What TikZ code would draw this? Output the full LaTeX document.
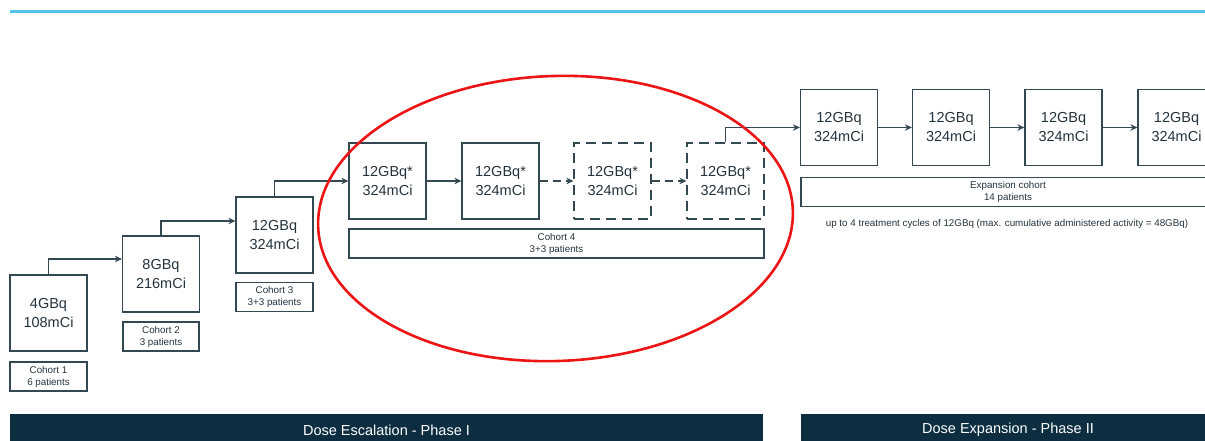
\documentclass[tikz,border=0pt]{standalone}
\usepackage{fontspec}
\setmainfont{Liberation Sans}
\usetikzlibrary{arrows.meta,calc}
\definecolor{lineclr}{RGB}{52,72,84}
\definecolor{txtclr}{RGB}{36,50,60}
\definecolor{barclr}{RGB}{12,46,64}
\definecolor{topclr}{RGB}{84,196,238}
\definecolor{ringclr}{RGB}{236,20,20}
\tikzset{
  dosebox/.style={draw=lineclr, line width=1.2pt, minimum width=77pt, minimum height=76pt,
    inner sep=0pt, align=center, text=txtclr, font=\fontsize{14.5}{19}\selectfont},
  dashbox/.style={dosebox, dash pattern=on 10pt off 6pt},
  labelbox/.style={draw=lineclr, line width=1.1pt, minimum height=29pt, inner sep=0pt,
    align=center, text=txtclr, font=\fontsize{9.8}{12}\selectfont},
  arr/.style={draw=lineclr, line width=1.1pt, -{Stealth[length=7pt,width=6.5pt]}},
  dasharr/.style={arr, dash pattern=on 8pt off 5pt},
  bartext/.style={text=white, font=\fontsize{14.5}{17}\selectfont}
}
\begin{document}
\begin{tikzpicture}[x=1pt,y=-1pt]
\useasboundingbox (0,0) rectangle (1205,441);

% header rule
\draw[topclr, line width=3pt] (10,12) -- (1205,12);

% dose escalation cohorts 1-3
\node[dosebox] (c1) at (48.5,313) {4GBq\\108mCi};
\node[labelbox, minimum width=77pt] (l1) at (48.5,376.5) {Cohort 1\\6 patients};
\node[dosebox] (c2) at (161,274) {8GBq\\216mCi};
\node[labelbox, minimum width=76pt] (l2) at (161,336.5) {Cohort 2\\3 patients};
\node[dosebox] (c3) at (274.5,235) {12GBq\\324mCi};
\node[labelbox, minimum width=77pt] (l3) at (274.5,297) {Cohort 3\\3+3 patients};

% cohort 4 cycles
\node[dosebox] (a) at (387.5,181) {12GBq*\\324mCi};
\node[dosebox] (b) at (500.5,181) {12GBq*\\324mCi};
\node[dashbox] (c) at (612.5,181) {12GBq*\\324mCi};
\node[dashbox] (d) at (725.5,181) {12GBq*\\324mCi};
\node[labelbox, minimum width=415pt] (l4) at (556.5,243.5) {Cohort 4\\3+3 patients};

% expansion cohort cycles
\node[dosebox] (e1) at (839,127.5) {12GBq\\324mCi};
\node[dosebox] (e2) at (951,127.5) {12GBq\\324mCi};
\node[dosebox] (e3) at (1063.5,127.5) {12GBq\\324mCi};
\node[dosebox] (e4) at (1176.5,127.5) {12GBq\\324mCi};
\node[labelbox, minimum width=414pt] (le) at (1008,192) {Expansion cohort\\14 patients};
\node[text=txtclr, font=\fontsize{9.8}{12}\selectfont] (note) at (1007,224)
  {up to 4 treatment cycles of 12GBq (max. cumulative administered activity = 48GBq)};

% connectors
\draw[arr] (c1.north) |- ([yshift=15pt]c2.west);
\draw[arr] (c2.north) |- ([yshift=14pt]c3.west);
\draw[arr] (c3.north) |- (a.west);
\draw[arr] (a) -- (b);
\draw[dasharr] (b) -- (c);
\draw[dasharr] (c) -- (d);
\draw[arr] (d.north) |- (e1.west);
\draw[arr] (e1) -- (e2);
\draw[arr] (e2) -- (e3);
\draw[arr] (e3) -- (e4);

% phase bars
\fill[barclr] (10,414) rectangle (763,445);
\node[bartext] (p1) at (386.5,430) {Dose Escalation - Phase I};
\fill[barclr] (801,414) rectangle (1215,445);
\node[bartext] (p2) at (1008,430) {Dose Expansion - Phase II};

% highlight ring round cohort 4
\draw[ringclr, line width=2.6pt, rotate around={2:(555.5,218.5)}]
  (555.5,218.5) ellipse [x radius=237.5, y radius=142.5];
\end{tikzpicture}
\end{document}
